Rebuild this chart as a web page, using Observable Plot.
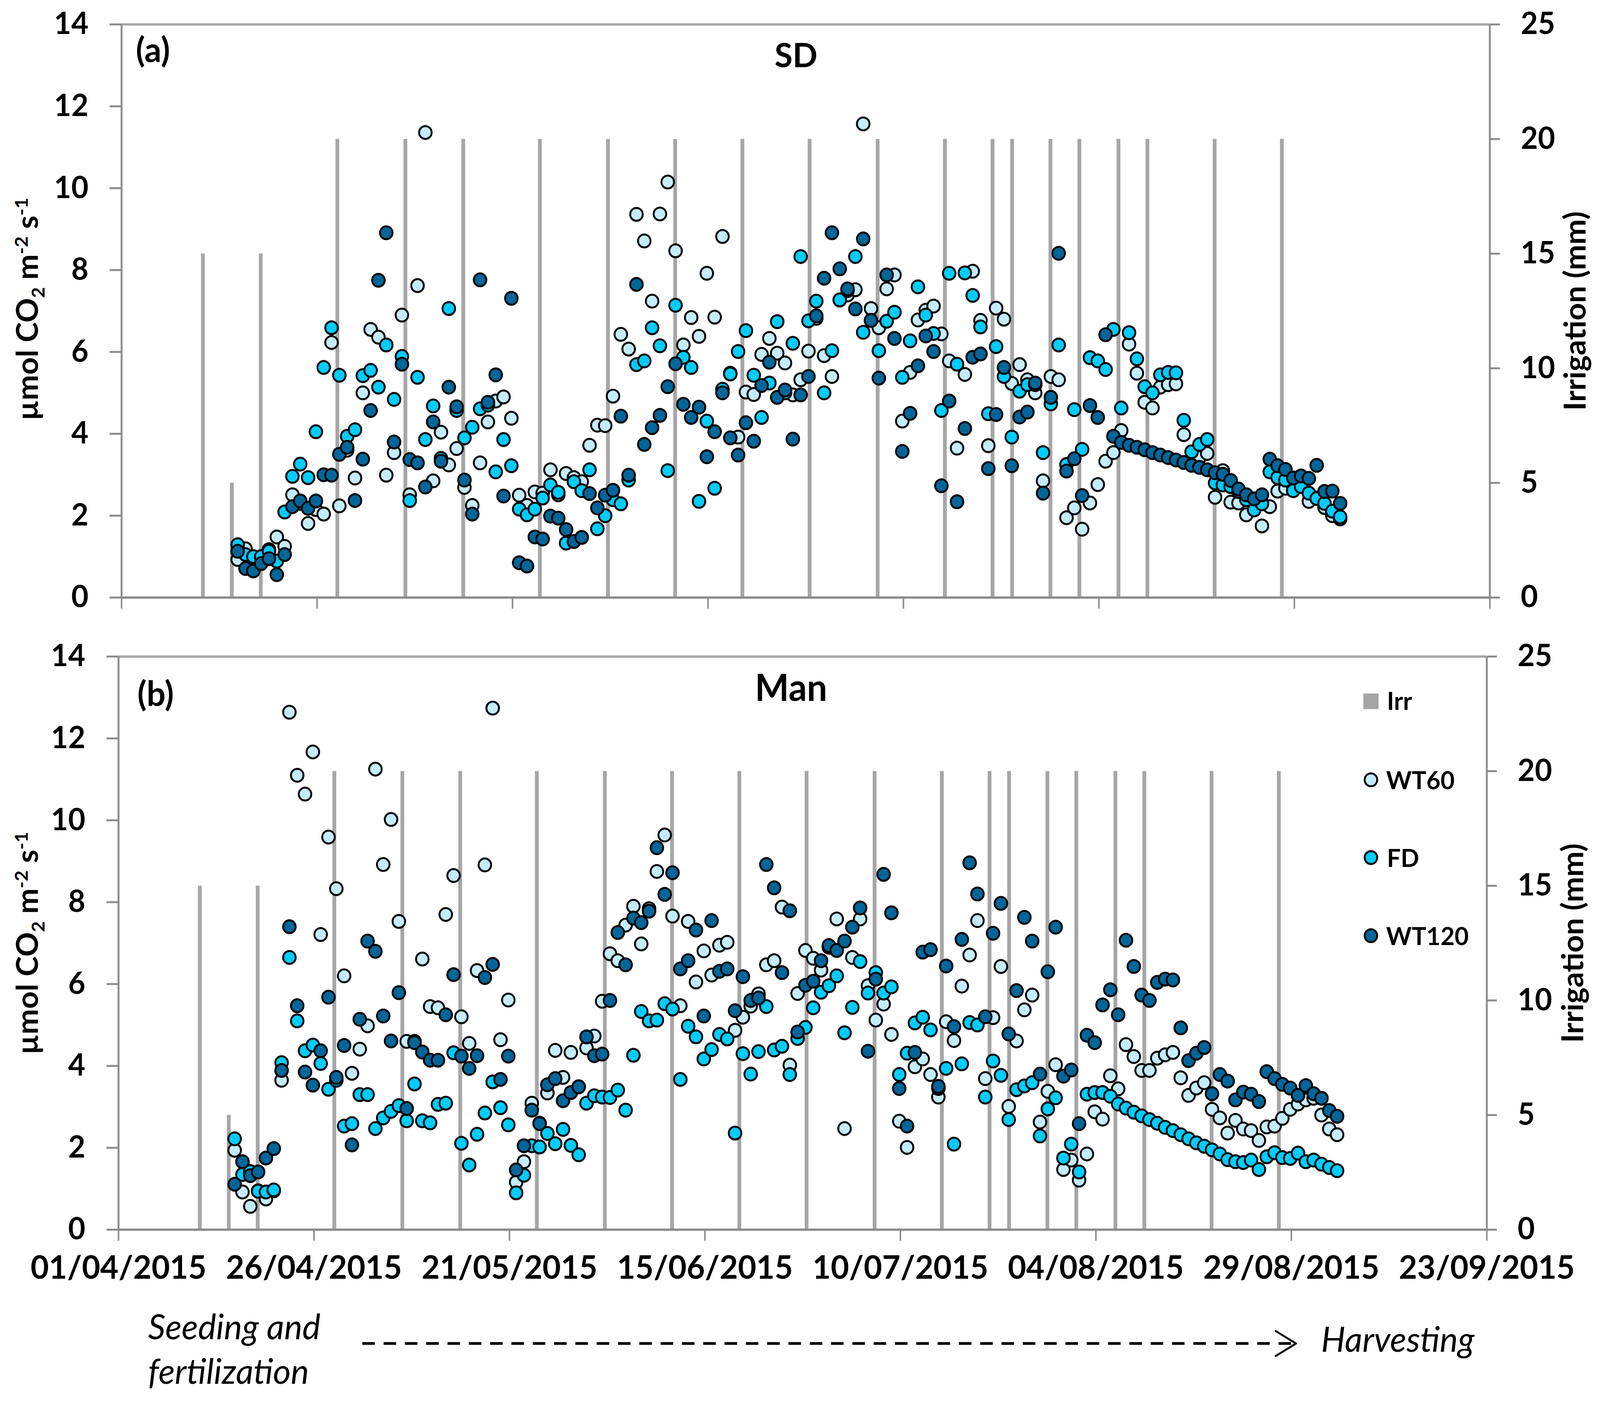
<!DOCTYPE html>
<html>
<head>
<meta charset="utf-8">
<script src="https://cdn.jsdelivr.net/npm/d3@7"></script>
<script src="https://cdn.jsdelivr.net/npm/@observablehq/plot@0.6"></script>
<style>
html,body{margin:0;padding:0;background:#fff;overflow:hidden}
#page{position:absolute;left:0;top:0;width:4205px;height:3586px;overflow:hidden;font-family:Lato,sans-serif;color:#000;transform-origin:0 0}
#page svg{position:absolute;left:0;overflow:visible}
.t{position:absolute;white-space:nowrap;line-height:1}
.b{font-weight:700}
.i{font-style:italic;font-size:90px}
.rot{transform:translate(-50%,-50%) rotate(-90deg);font-weight:700;font-size:78px}
.rot sub,.rot sup{font-size:48px;line-height:0}
.lg{font-weight:700;font-size:64px;transform:translateY(-50%)}
.c{transform:translate(-50%,-50%)}
.sw{position:absolute;box-sizing:border-box}
</style>
</head>
<body>
<div id="page"></div>
<script>
// Daily series start on this date, one value per day
const firstDay = "2015-04-16";
const tickDates = ["2015-04-01","2015-04-26","2015-05-21","2015-06-15","2015-07-10","2015-08-04","2015-08-29","2015-09-23"];
const leftTicks = [0,2,4,6,8,10,12,14];
const rightTicks = [0,5,10,15,20,25];

// Irrigation events: days since 1 April, and depth in mm
const irrDay = [10.4,14.1,17.8,27.6,36.3,43.7,53.5,62.2,70.8,79.4,88,96.7,105.3,111.4,113.9,118.8,122.5,127.5,131.2,139.8,148.4];
const irrMm  = [15,5,15,20,20,20,20,20,20,20,20,20,20,20,20,20,20,20,20,20,20];

const sdWT60 = [
0.93,1.19,0.97,0.97,1.17,1.48,1.25,2.51,2.30,1.81,
2.15,2.04,6.23,2.24,3.60,2.92,5.00,6.55,6.36,2.99,
3.54,6.90,2.51,7.62,11.36,2.85,4.04,3.24,3.64,2.69,
2.25,3.29,4.29,4.80,4.90,4.38,2.50,2.25,2.58,2.55,
3.12,2.51,3.03,2.93,2.83,3.72,4.21,4.20,4.92,6.43,
6.07,9.36,8.71,7.24,9.37,10.15,8.47,6.17,6.84,6.38,
7.92,6.85,8.82,5.48,3.92,5.02,4.96,5.94,6.33,5.97,
5.73,4.95,5.32,6.02,6.82,5.91,5.40,7.27,7.39,7.52,
11.57,7.06,6.59,7.54,7.88,4.31,5.50,6.78,7.02,7.12,
6.44,5.78,3.65,5.45,7.97,6.77,3.71,7.07,6.80,5.23,
5.69,5.32,5.00,2.85,5.40,5.32,1.95,2.19,1.67,2.31,
2.76,3.33,3.54,4.08,6.19,5.48,4.77,4.63,5.14,5.20,
5.22,3.98,3.30,3.42,3.52,2.45,3.10,2.33,2.31,2.02,
2.30,1.75,2.22,2.60,2.67,2.71,2.75,2.35,2.43,2.20,2.00,1.92];

const sdFD = [
1.29,1.05,1.00,1.00,1.13,0.89,2.09,2.96,3.26,2.93,
4.05,5.62,6.59,5.43,3.94,4.10,5.42,5.55,5.14,6.17,
4.84,5.89,2.37,5.38,3.86,4.68,3.40,7.06,4.57,3.90,
4.16,4.61,4.70,3.07,3.86,3.22,2.16,2.02,2.16,2.43,
2.75,2.57,1.33,2.83,2.61,3.12,1.68,2.00,2.39,2.29,
2.87,5.69,5.78,6.59,6.15,3.10,7.14,5.87,5.62,2.35,
4.31,2.67,5.09,5.46,6.01,6.52,5.43,4.40,5.24,6.74,
5.00,6.21,8.33,6.76,7.24,5.00,6.03,7.27,7.50,8.33,
6.48,6.77,6.03,6.75,6.97,5.38,6.27,7.59,6.90,6.45,
4.57,7.92,5.70,7.93,7.38,6.61,4.49,6.13,5.40,3.92,
5.04,5.20,5.20,3.54,4.73,6.17,3.25,4.59,3.62,5.86,
5.78,5.57,6.55,4.63,6.47,5.83,5.15,5.00,5.44,5.50,
5.49,4.33,3.56,3.74,3.86,2.80,2.75,2.71,2.59,2.39,
2.14,2.29,3.07,2.93,2.87,2.61,2.71,2.55,2.42,2.30,2.11,1.97];

const sdWT120 = [
1.13,0.71,0.65,0.83,0.95,0.56,1.05,2.22,2.36,2.18,
2.36,3.00,2.99,3.50,3.67,2.37,3.38,4.57,7.75,8.91,
3.80,5.70,3.37,3.29,2.70,4.29,3.33,5.14,4.66,2.87,
2.04,7.76,4.77,5.44,2.48,7.31,0.85,0.77,1.48,1.43,
1.99,1.94,1.66,1.37,1.47,2.54,2.19,2.50,2.62,4.43,
2.99,7.65,3.74,4.15,4.45,5.15,5.71,4.72,4.40,4.65,
3.44,4.05,5.00,3.90,3.48,4.27,3.82,5.18,5.75,4.89,
5.07,3.87,4.95,5.40,6.88,7.80,8.91,8.03,7.54,7.05,
8.76,6.77,5.36,7.88,6.33,3.57,4.50,5.66,6.39,6.01,
2.73,4.80,2.34,4.13,5.87,5.95,3.15,4.47,5.62,3.22,
4.41,4.53,5.24,2.55,4.89,8.41,3.09,3.39,2.49,4.69,
4.40,6.42,3.94,3.79,3.72,3.67,3.61,3.54,3.48,3.42,
3.36,3.30,3.23,3.18,3.12,3.05,3.01,2.86,2.65,2.51,
2.41,2.51,3.38,3.22,3.13,2.92,2.97,2.91,3.23,2.59,2.60,2.30];

const manWT60 = [
1.94,0.92,0.57,0.95,0.75,0.95,3.65,12.64,11.10,10.64,
11.67,7.21,9.59,8.33,6.20,3.82,4.41,4.98,11.25,8.92,
10.02,7.53,4.60,4.60,6.61,5.45,5.42,7.70,8.65,5.20,
4.55,6.33,8.91,12.74,4.64,5.61,1.16,1.66,3.09,2.60,
3.34,4.38,3.72,4.33,3.49,4.44,4.73,5.58,6.74,6.57,
7.44,7.90,6.98,7.84,8.75,9.64,7.66,5.47,7.53,6.05,
6.81,6.22,6.95,7.02,4.87,5.19,5.46,5.76,6.47,6.57,
7.88,4.02,5.77,6.82,6.63,6.34,6.90,7.59,2.47,6.65,
7.59,5.96,5.12,5.51,4.77,2.65,2.01,3.98,4.17,3.79,
3.24,5.08,4.62,5.95,6.71,7.55,3.69,5.18,6.43,3.01,
4.61,5.37,5.73,2.63,3.38,4.03,1.47,1.70,1.21,1.85,
2.88,2.70,3.76,3.44,4.52,4.23,3.89,3.89,4.19,4.27,
4.33,3.71,3.28,3.46,3.59,2.94,2.73,2.36,2.67,2.46,
2.42,2.18,2.51,2.53,2.72,2.94,3.07,3.17,3.21,2.80,2.46,2.32];

const manFD = [
2.22,1.35,1.42,0.94,0.92,0.97,4.08,6.65,5.10,4.37,
4.51,4.06,3.43,3.65,2.53,2.59,3.30,3.30,2.47,2.73,
2.89,3.03,2.66,3.56,2.66,2.61,3.06,3.09,4.32,2.11,
1.58,2.33,2.85,3.61,2.98,2.56,0.90,1.33,2.05,2.02,
2.35,2.10,2.45,2.06,1.83,3.09,3.27,3.24,3.23,3.41,
2.92,4.26,5.33,5.10,5.12,5.52,5.39,3.67,4.97,4.71,
4.17,4.40,4.77,4.66,2.36,4.30,3.80,4.35,5.45,4.39,
4.48,3.79,4.67,4.94,5.42,5.80,5.96,6.20,4.81,5.43,
6.55,5.78,6.28,5.78,5.93,3.79,4.31,5.05,5.19,4.88,
3.45,3.94,2.09,4.05,5.06,5.00,3.24,4.12,3.77,2.69,
3.42,3.51,3.59,2.29,2.95,3.22,1.75,2.09,1.41,3.31,
3.35,3.35,3.26,3.07,2.97,2.87,2.78,2.69,2.60,2.50,
2.42,2.32,2.22,2.12,2.04,1.95,1.85,1.71,1.66,1.64,
1.70,1.47,1.78,1.88,1.76,1.74,1.87,1.66,1.70,1.60,1.52,1.44];

const manWT120 = [
1.11,1.66,1.32,1.41,1.75,1.98,3.89,7.40,5.47,3.85,
3.53,4.37,5.68,3.72,4.50,2.07,5.14,7.05,6.80,5.22,
4.61,5.79,2.96,4.57,4.34,4.14,4.14,5.25,6.23,4.24,
3.94,4.25,6.16,6.48,3.67,4.24,1.46,2.05,2.92,2.59,
3.54,3.69,3.15,3.35,3.49,4.71,4.25,4.29,5.60,7.26,
6.47,7.61,7.50,7.78,9.33,8.19,8.72,6.37,6.57,7.32,
5.22,7.55,6.31,6.37,5.35,6.18,5.60,5.66,8.92,8.35,
6.28,7.79,4.83,5.97,6.07,6.57,6.94,6.82,7.05,7.39,
7.86,4.36,6.12,8.68,7.74,3.45,2.53,4.33,6.78,6.84,
3.50,6.44,4.96,7.09,8.96,8.20,5.20,7.24,7.97,4.78,
5.84,7.63,7.05,3.80,6.30,7.39,3.75,3.90,2.59,4.75,
4.57,5.49,5.86,5.25,7.07,6.43,5.73,5.60,6.04,6.12,
6.10,4.93,4.13,4.31,4.45,3.32,3.79,3.63,3.17,3.36,
3.31,3.13,3.86,3.69,3.55,3.46,3.28,3.52,3.32,3.21,2.91,2.77];

const colWT60 = "#C4ECFF", colFD = "#00CCFF", colWT120 = "#006699", colIrr = "#A6A6A6", colAxis = "#8C8C8C";

const d0 = new Date(firstDay + "T00:00Z");
const apr1 = new Date(tickDates[0] + "T00:00Z");
const xTicks = tickDates.map(d => new Date(d + "T00:00Z"));
const byDays = d => new Date(+apr1 + d * 864e5);
const rows = vals => vals.map((v, i) => ({date: d3.utcDay.offset(d0, i), v}));
const irrRows = irrDay.map((d, i) => ({date: byDays(d), v: irrMm[i] * 14 / 25}));

function panel({wt60, fd, wt120, top, height, marginLeft, marginRight, marginTop, marginBottom, labels, extra = []}) {
  const dotOpts = c => ({x: "date", y: "v", r: 16.5, dx: -3, fill: c, stroke: "#000", strokeWidth: 5});
  const svg = Plot.plot({
    width: 4205, height, marginLeft, marginRight, marginTop, marginBottom,
    style: {fontFamily: "Lato, sans-serif", fontSize: "78px", fontWeight: 700, color: "#000", background: "transparent", overflow: "visible"},
    x: {type: "utc", domain: [xTicks[0], xTicks[xTicks.length - 1]]},
    y: {domain: [0, 14]},
    marks: [
      Plot.ruleX(irrRows, {x: "date", y1: 0, y2: "v", stroke: colIrr, strokeWidth: 10}),
      Plot.ruleY([14], {stroke: colIrr, strokeWidth: 6}),
      Plot.ruleY([0], {stroke: colAxis, strokeWidth: 6}),
      Plot.axisY({anchor: "left", ticks: leftTicks, tickSize: 31, tickPadding: 56, stroke: colAxis, strokeWidth: 5, fill: "#000", tickFormat: d => String(d), label: null}),
      Plot.axisY({anchor: "right", ticks: rightTicks.map(v => v * 14 / 25), tickSize: 26, tickPadding: 55, stroke: colAxis, strokeWidth: 5, fill: "#000", tickFormat: d => String(Math.round(d * 25 / 14)), label: null}),
      Plot.ruleX([xTicks[0], xTicks[xTicks.length - 1]], {y1: 0, y2: 14, stroke: colAxis, strokeWidth: 5}),
      labels
        ? Plot.axisX({anchor: "bottom", ticks: xTicks, tickSize: 29, tickPadding: 38, stroke: colAxis, strokeWidth: 4, fill: "#000", fontSize: 83, tickFormat: d3.utcFormat("%d/%m/%Y"), label: null})
        : Plot.axisX({anchor: "bottom", ticks: xTicks, tickSize: 29, stroke: colAxis, strokeWidth: 4, tickFormat: () => "", label: null}),
      Plot.dot(rows(wt60), dotOpts(colWT60)),
      Plot.dot(rows(fd), dotOpts(colFD)),
      Plot.dot(rows(wt120), dotOpts(colWT120)),
      ...extra
    ]
  });
  svg.style.top = top + "px";
  return svg;
}

const arrowEnd = byDays(150.6), arrowY = -2.78;
const arrowMarks = [
  Plot.ruleY([arrowY], {x1: byDays(31.2), x2: arrowEnd, stroke: "#000", strokeWidth: 7, strokeDasharray: "33,23"}),
  Plot.line([
    {x: byDays(148), y: arrowY + 0.305},
    {x: arrowEnd, y: arrowY},
    {x: byDays(148), y: arrowY - 0.305}
  ], {x: "x", y: "y", stroke: "#000", strokeWidth: 5})
];

const page = document.getElementById("page");
page.append(panel({wt60: sdWT60, fd: sdFD, wt120: sdWT120, top: 0, height: 1620, marginLeft: 319, marginRight: 290, marginTop: 62, marginBottom: 91, labels: false}));
page.append(panel({wt60: manWT60, fd: manFD, wt120: manWT120, top: 1620, height: 1966, marginLeft: 311, marginRight: 298, marginTop: 60, marginBottom: 439, labels: true, extra: arrowMarks}));

function addText(html, cls, x, y, size) {
  const d = document.createElement("div");
  d.className = "t " + cls;
  d.innerHTML = html;
  d.style.left = x + "px";
  d.style.top = y + "px";
  if (size) d.style.fontSize = size + "px";
  page.append(d);
  return d;
}
function addSwatch(x, y, s, fill, round) {
  const d = document.createElement("div");
  d.className = "sw";
  d.style.cssText += `left:${x - s / 2}px;top:${y - s / 2}px;width:${s}px;height:${s}px;background:${fill};` +
    (round ? "border:5px solid #000;border-radius:50%;" : "");
  page.append(d);
}

const yTitle = "µmol CO<sub>2</sub> m<sup>-2</sup> s<sup>-1</sup>";
addText(yTitle, "rot", 70, 791);
addText(yTitle, "rot", 70, 2414);
addText("Irrigation (mm)", "rot", 4137, 796);
addText("Irrigation (mm)", "rot", 4131, 2414);

addText("(a)", "b c", 402, 125, 88);
addText("(b)", "b c", 409, 1773, 88);
addText("SD", "b c", 2092, 139, 86);
addText("Man", "b c", 2079, 1757, 95);

addSwatch(3603, 1795, 40, colIrr, false);
addSwatch(3603, 1996, 38, colWT60, true);
addSwatch(3603, 2195, 38, colFD, true);
addSwatch(3603, 2395, 38, colWT120, true);
addText("Irr", "lg", 3645, 1793);
addText("WT60", "lg", 3643, 1996);
addText("FD", "lg", 3645, 2195);
addText("WT120", "lg", 3643, 2395);

addText("Seeding and", "i", 389, 3348);
addText("fertilization", "i", 389, 3462);
addText("Harvesting", "i", 3472, 3380);

// Fit the fixed 4205×3586 layout to the window that actually opens
const sx = window.innerWidth / 4205, sy = window.innerHeight / 3586;
page.style.transform = `scale(${sx},${sy})`;
</script>
</body>
</html>
